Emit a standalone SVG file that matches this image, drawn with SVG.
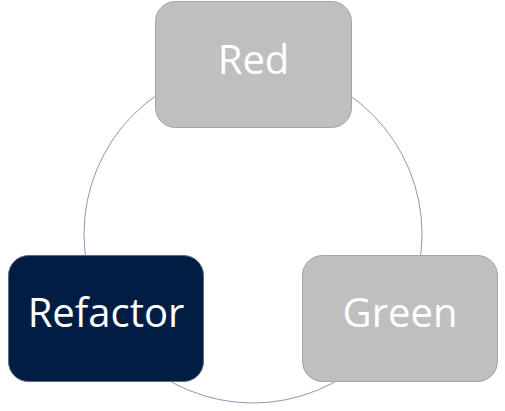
<svg xmlns="http://www.w3.org/2000/svg" width="505" height="411" viewBox="0 0 505 411">
<style>
.box{stroke-width:1}
.grey{fill:#bfbfbf;stroke:#a5a5a5}
.dark{fill:#021d44;stroke:#5a6b85}
.lbl{font-family:"Open Sans","Noto Sans",sans-serif;font-size:40px;fill:#ffffff;text-anchor:middle}
</style>
<rect width="505" height="411" fill="#ffffff"/>
<g id="connectors">
<circle cx="253" cy="234" r="169" fill="none" stroke="#8a9ab8" stroke-width="1"/>
</g>
<g id="red">
<rect class="box grey" x="155.5" y="1.5" width="196" height="126" rx="20"/>
<text class="lbl" x="253.5" y="74">Red</text>
</g>
<g id="refactor">
<rect class="box dark" x="8.5" y="255.5" width="195" height="126" rx="20"/>
<text class="lbl" x="106" y="327">Refactor</text>
</g>
<g id="green">
<rect class="box grey" x="302.5" y="255.5" width="195" height="126" rx="20"/>
<text class="lbl" x="400" y="327">Green</text>
</g>
</svg>
